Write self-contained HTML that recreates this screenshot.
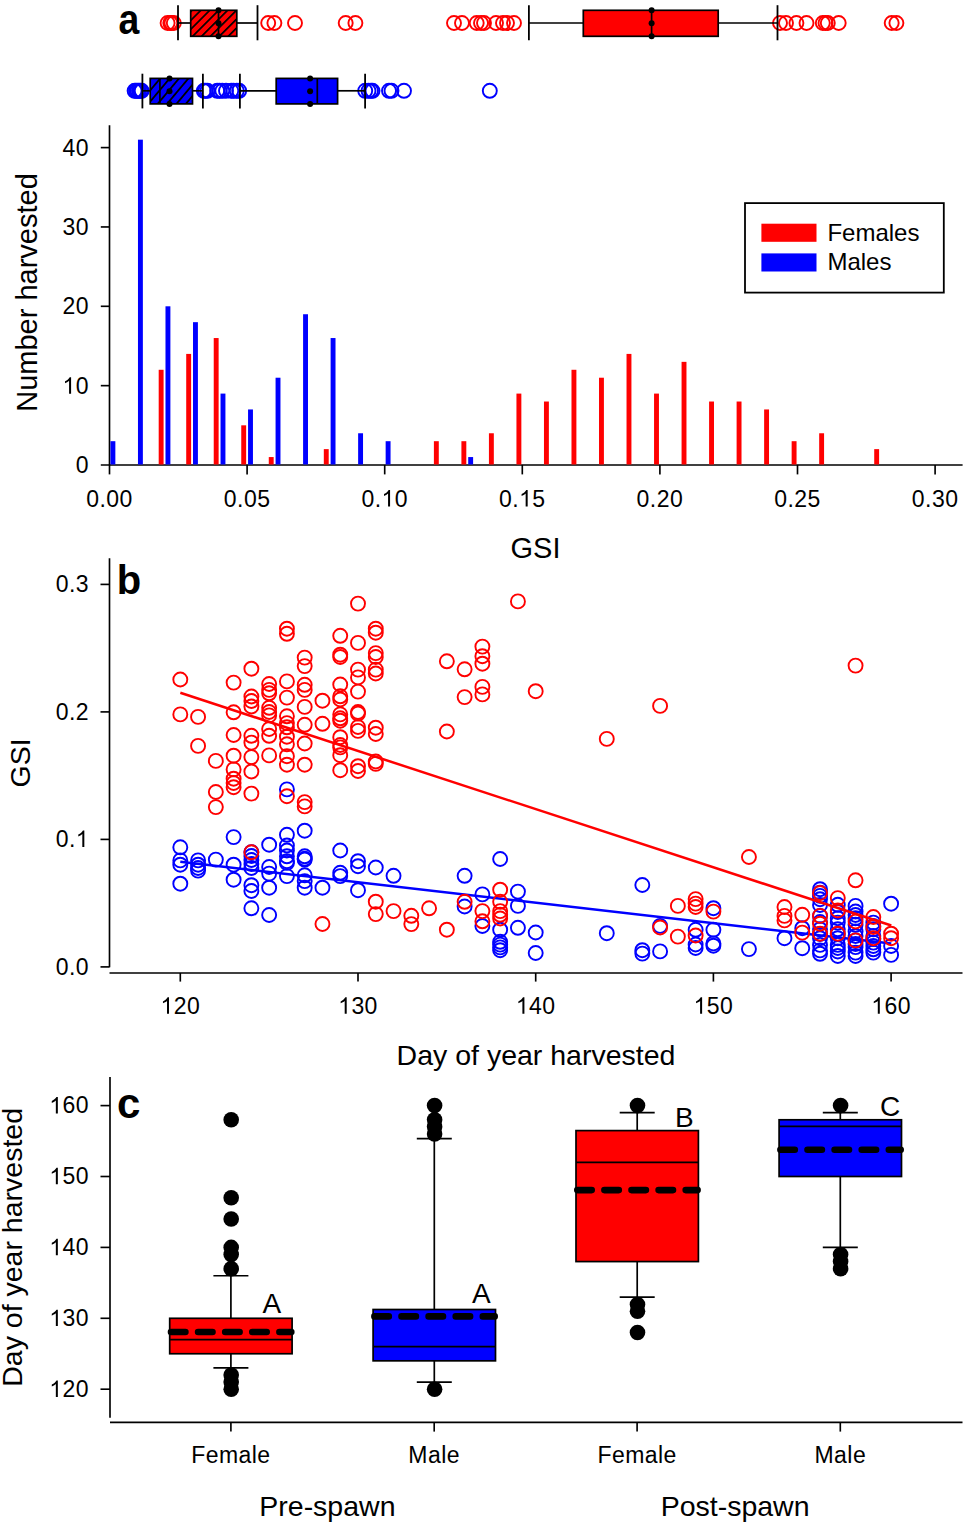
<!DOCTYPE html>
<html><head><meta charset="utf-8"><style>
html,body{margin:0;padding:0;background:#fff;overflow:hidden;width:968px;height:1528px;}
svg{display:block;}
text{font-family:"Liberation Sans", sans-serif;fill:#000;}
</style></head><body>
<svg width="968" height="1528" viewBox="0 0 968 1528">
<defs>
<pattern id="hatchr" patternUnits="userSpaceOnUse" width="6.3" height="6.3" patternTransform="translate(191,10) rotate(45)">
<rect width="6.3" height="6.3" fill="#ff0000"/><rect x="0" y="0" width="1.7" height="6.3" fill="#000"/></pattern>
<pattern id="hatchb" patternUnits="userSpaceOnUse" width="7.2" height="7.2" patternTransform="translate(150,78) rotate(40)">
<rect width="7.2" height="7.2" fill="#0000ff"/><rect x="0" y="0" width="1.8" height="7.2" fill="#000"/></pattern>
</defs>
<rect width="968" height="1528" fill="#fff"/>
<text transform="translate(118.5,33.8) scale(0.89,1)" font-size="42" font-weight="bold">a</text>
<circle cx="167.60" cy="23.00" r="7.0" stroke="#ff0000" stroke-width="1.9" fill="none"/>
<circle cx="170.30" cy="23.00" r="7.0" stroke="#ff0000" stroke-width="1.9" fill="none"/>
<circle cx="171.50" cy="23.00" r="7.0" stroke="#ff0000" stroke-width="1.9" fill="none"/>
<circle cx="173.80" cy="23.00" r="7.0" stroke="#ff0000" stroke-width="1.9" fill="none"/>
<circle cx="268.20" cy="23.00" r="7.0" stroke="#ff0000" stroke-width="1.9" fill="none"/>
<circle cx="274.40" cy="23.00" r="7.0" stroke="#ff0000" stroke-width="1.9" fill="none"/>
<circle cx="295.00" cy="23.00" r="7.0" stroke="#ff0000" stroke-width="1.9" fill="none"/>
<circle cx="345.70" cy="23.00" r="7.0" stroke="#ff0000" stroke-width="1.9" fill="none"/>
<circle cx="355.40" cy="23.00" r="7.0" stroke="#ff0000" stroke-width="1.9" fill="none"/>
<circle cx="454.00" cy="23.00" r="7.0" stroke="#ff0000" stroke-width="1.9" fill="none"/>
<circle cx="462.00" cy="23.00" r="7.0" stroke="#ff0000" stroke-width="1.9" fill="none"/>
<circle cx="476.70" cy="23.00" r="7.0" stroke="#ff0000" stroke-width="1.9" fill="none"/>
<circle cx="481.00" cy="23.00" r="7.0" stroke="#ff0000" stroke-width="1.9" fill="none"/>
<circle cx="484.00" cy="23.00" r="7.0" stroke="#ff0000" stroke-width="1.9" fill="none"/>
<circle cx="496.00" cy="23.00" r="7.0" stroke="#ff0000" stroke-width="1.9" fill="none"/>
<circle cx="503.00" cy="23.00" r="7.0" stroke="#ff0000" stroke-width="1.9" fill="none"/>
<circle cx="507.00" cy="23.00" r="7.0" stroke="#ff0000" stroke-width="1.9" fill="none"/>
<circle cx="514.00" cy="23.00" r="7.0" stroke="#ff0000" stroke-width="1.9" fill="none"/>
<circle cx="780.00" cy="23.00" r="7.0" stroke="#ff0000" stroke-width="1.9" fill="none"/>
<circle cx="786.00" cy="23.00" r="7.0" stroke="#ff0000" stroke-width="1.9" fill="none"/>
<circle cx="796.40" cy="23.00" r="7.0" stroke="#ff0000" stroke-width="1.9" fill="none"/>
<circle cx="806.50" cy="23.00" r="7.0" stroke="#ff0000" stroke-width="1.9" fill="none"/>
<circle cx="822.80" cy="23.00" r="7.0" stroke="#ff0000" stroke-width="1.9" fill="none"/>
<circle cx="825.50" cy="23.00" r="7.0" stroke="#ff0000" stroke-width="1.9" fill="none"/>
<circle cx="827.80" cy="23.00" r="7.0" stroke="#ff0000" stroke-width="1.9" fill="none"/>
<circle cx="838.70" cy="23.00" r="7.0" stroke="#ff0000" stroke-width="1.9" fill="none"/>
<circle cx="891.70" cy="23.00" r="7.0" stroke="#ff0000" stroke-width="1.9" fill="none"/>
<circle cx="896.40" cy="23.00" r="7.0" stroke="#ff0000" stroke-width="1.9" fill="none"/>
<line x1="178.00" y1="23.00" x2="190.70" y2="23.00" stroke="#000" stroke-width="1.7" />
<line x1="236.80" y1="23.00" x2="257.50" y2="23.00" stroke="#000" stroke-width="1.7" />
<line x1="178.00" y1="5.20" x2="178.00" y2="40.30" stroke="#000" stroke-width="1.8" />
<line x1="257.50" y1="5.20" x2="257.50" y2="40.30" stroke="#000" stroke-width="1.8" />
<rect x="190.70" y="10.30" width="46.10" height="26.00" fill="#ff0000" stroke="none" stroke-width="0" />
<rect x="190.70" y="10.30" width="46.10" height="26.00" fill="url(#hatchr)" stroke="#000" stroke-width="1.7" />
<line x1="218.50" y1="10.30" x2="218.50" y2="36.30" stroke="#000" stroke-width="1.7" />
<circle cx="218.50" cy="10.30" r="3" fill="#000"/>
<circle cx="218.50" cy="23.30" r="3" fill="#000"/>
<circle cx="218.50" cy="36.30" r="3" fill="#000"/>
<line x1="528.90" y1="23.00" x2="583.30" y2="23.00" stroke="#000" stroke-width="1.7" />
<line x1="718.20" y1="23.00" x2="777.50" y2="23.00" stroke="#000" stroke-width="1.7" />
<line x1="528.90" y1="5.20" x2="528.90" y2="40.30" stroke="#000" stroke-width="1.8" />
<line x1="777.50" y1="5.20" x2="777.50" y2="40.30" stroke="#000" stroke-width="1.8" />
<rect x="583.30" y="10.30" width="134.90" height="26.00" fill="#ff0000" stroke="#000" stroke-width="1.7" />
<line x1="651.60" y1="10.30" x2="651.60" y2="36.30" stroke="#000" stroke-width="1.7" />
<circle cx="651.60" cy="10.30" r="3" fill="#000"/>
<circle cx="651.60" cy="23.30" r="3" fill="#000"/>
<circle cx="651.60" cy="36.30" r="3" fill="#000"/>
<circle cx="134.60" cy="90.80" r="7.0" stroke="#0000ff" stroke-width="1.9" fill="none"/>
<circle cx="136.00" cy="90.80" r="7.0" stroke="#0000ff" stroke-width="1.9" fill="none"/>
<circle cx="137.50" cy="90.80" r="7.0" stroke="#0000ff" stroke-width="1.9" fill="none"/>
<circle cx="139.00" cy="90.80" r="7.0" stroke="#0000ff" stroke-width="1.9" fill="none"/>
<circle cx="140.50" cy="90.80" r="7.0" stroke="#0000ff" stroke-width="1.9" fill="none"/>
<circle cx="141.70" cy="90.80" r="7.0" stroke="#0000ff" stroke-width="1.9" fill="none"/>
<circle cx="203.80" cy="90.80" r="7.0" stroke="#0000ff" stroke-width="1.9" fill="none"/>
<circle cx="205.50" cy="90.80" r="7.0" stroke="#0000ff" stroke-width="1.9" fill="none"/>
<circle cx="207.50" cy="90.80" r="7.0" stroke="#0000ff" stroke-width="1.9" fill="none"/>
<circle cx="217.20" cy="90.80" r="7.0" stroke="#0000ff" stroke-width="1.9" fill="none"/>
<circle cx="219.50" cy="90.80" r="7.0" stroke="#0000ff" stroke-width="1.9" fill="none"/>
<circle cx="222.30" cy="90.80" r="7.0" stroke="#0000ff" stroke-width="1.9" fill="none"/>
<circle cx="226.00" cy="90.80" r="7.0" stroke="#0000ff" stroke-width="1.9" fill="none"/>
<circle cx="231.30" cy="90.80" r="7.0" stroke="#0000ff" stroke-width="1.9" fill="none"/>
<circle cx="233.50" cy="90.80" r="7.0" stroke="#0000ff" stroke-width="1.9" fill="none"/>
<circle cx="236.80" cy="90.80" r="7.0" stroke="#0000ff" stroke-width="1.9" fill="none"/>
<circle cx="239.20" cy="90.80" r="7.0" stroke="#0000ff" stroke-width="1.9" fill="none"/>
<circle cx="365.20" cy="90.80" r="7.0" stroke="#0000ff" stroke-width="1.9" fill="none"/>
<circle cx="368.50" cy="90.80" r="7.0" stroke="#0000ff" stroke-width="1.9" fill="none"/>
<circle cx="371.00" cy="90.80" r="7.0" stroke="#0000ff" stroke-width="1.9" fill="none"/>
<circle cx="372.50" cy="90.80" r="7.0" stroke="#0000ff" stroke-width="1.9" fill="none"/>
<circle cx="389.00" cy="90.80" r="7.0" stroke="#0000ff" stroke-width="1.9" fill="none"/>
<circle cx="391.50" cy="90.80" r="7.0" stroke="#0000ff" stroke-width="1.9" fill="none"/>
<circle cx="404.00" cy="90.80" r="7.0" stroke="#0000ff" stroke-width="1.9" fill="none"/>
<circle cx="489.80" cy="90.80" r="7.0" stroke="#0000ff" stroke-width="1.9" fill="none"/>
<line x1="142.40" y1="90.80" x2="150.20" y2="90.80" stroke="#000" stroke-width="1.7" />
<line x1="192.50" y1="90.80" x2="202.90" y2="90.80" stroke="#000" stroke-width="1.7" />
<line x1="142.40" y1="73.70" x2="142.40" y2="108.40" stroke="#000" stroke-width="1.8" />
<line x1="202.90" y1="73.70" x2="202.90" y2="108.40" stroke="#000" stroke-width="1.8" />
<rect x="150.20" y="78.40" width="42.30" height="25.50" fill="#0000ff" stroke="none" stroke-width="0" />
<rect x="150.20" y="78.40" width="42.30" height="25.50" fill="url(#hatchb)" stroke="#000" stroke-width="1.7" />
<line x1="159.90" y1="78.40" x2="159.90" y2="103.90" stroke="#000" stroke-width="1.7" />
<circle cx="169.50" cy="78.40" r="3" fill="#000"/>
<circle cx="169.50" cy="91.15" r="3" fill="#000"/>
<circle cx="169.50" cy="103.90" r="3" fill="#000"/>
<line x1="239.90" y1="90.80" x2="276.20" y2="90.80" stroke="#000" stroke-width="1.7" />
<line x1="337.60" y1="90.80" x2="365.10" y2="90.80" stroke="#000" stroke-width="1.7" />
<line x1="239.90" y1="73.70" x2="239.90" y2="108.40" stroke="#000" stroke-width="1.8" />
<line x1="365.10" y1="73.70" x2="365.10" y2="108.40" stroke="#000" stroke-width="1.8" />
<rect x="276.20" y="78.40" width="61.40" height="25.50" fill="#0000ff" stroke="#000" stroke-width="1.7" />
<line x1="317.30" y1="78.40" x2="317.30" y2="103.90" stroke="#000" stroke-width="1.7" />
<circle cx="310.10" cy="78.40" r="3" fill="#000"/>
<circle cx="310.10" cy="91.15" r="3" fill="#000"/>
<circle cx="310.10" cy="103.90" r="3" fill="#000"/>
<line x1="109.50" y1="125.20" x2="109.50" y2="465.00" stroke="#000" stroke-width="1.65" />
<line x1="100.80" y1="465.00" x2="962.60" y2="465.00" stroke="#000" stroke-width="1.65" />
<line x1="100.80" y1="385.65" x2="109.50" y2="385.65" stroke="#000" stroke-width="1.65" />
<line x1="100.80" y1="306.30" x2="109.50" y2="306.30" stroke="#000" stroke-width="1.65" />
<line x1="100.80" y1="226.95" x2="109.50" y2="226.95" stroke="#000" stroke-width="1.65" />
<line x1="100.80" y1="147.60" x2="109.50" y2="147.60" stroke="#000" stroke-width="1.65" />
<text x="75.76" y="473.10" font-size="23">0</text>
<path d="M71.09,393.75 L69.08,393.75 L69.08,380.87 C68.60,381.33 67.95,381.79 67.15,382.27 C66.34,382.73 65.63,383.08 65.03,383.31 L65.03,381.35 C66.14,380.82 67.10,380.20 67.93,379.47 C68.76,378.73 69.36,378.02 69.70,377.28 L71.09,377.28 Z" fill="#000"/>
<text x="75.76" y="393.75" font-size="23">0</text>
<text x="62.52" y="314.40" font-size="23">2</text>
<text x="75.76" y="314.40" font-size="23">0</text>
<text x="62.52" y="235.05" font-size="23">3</text>
<text x="75.76" y="235.05" font-size="23">0</text>
<text x="62.52" y="155.70" font-size="23">4</text>
<text x="75.76" y="155.70" font-size="23">0</text>
<line x1="109.50" y1="465.00" x2="109.50" y2="474.40" stroke="#000" stroke-width="1.65" />
<text x="86.22" y="506.50" font-size="23">0</text>
<text x="99.46" y="506.50" font-size="23">.</text>
<text x="106.30" y="506.50" font-size="23">0</text>
<text x="119.54" y="506.50" font-size="23">0</text>
<line x1="247.10" y1="465.00" x2="247.10" y2="474.40" stroke="#000" stroke-width="1.65" />
<text x="223.82" y="506.50" font-size="23">0</text>
<text x="237.06" y="506.50" font-size="23">.</text>
<text x="243.90" y="506.50" font-size="23">0</text>
<text x="257.14" y="506.50" font-size="23">5</text>
<line x1="384.70" y1="465.00" x2="384.70" y2="474.40" stroke="#000" stroke-width="1.65" />
<text x="361.42" y="506.50" font-size="23">0</text>
<text x="374.66" y="506.50" font-size="23">.</text>
<path d="M390.07,506.50 L388.06,506.50 L388.06,493.62 C387.57,494.08 386.93,494.54 386.13,495.02 C385.32,495.48 384.61,495.83 384.01,496.06 L384.01,494.10 C385.11,493.57 386.08,492.95 386.91,492.22 C387.74,491.48 388.33,490.77 388.68,490.03 L390.07,490.03 Z" fill="#000"/>
<text x="394.74" y="506.50" font-size="23">0</text>
<line x1="522.30" y1="465.00" x2="522.30" y2="474.40" stroke="#000" stroke-width="1.65" />
<text x="499.02" y="506.50" font-size="23">0</text>
<text x="512.26" y="506.50" font-size="23">.</text>
<path d="M527.67,506.50 L525.66,506.50 L525.66,493.62 C525.18,494.08 524.53,494.54 523.73,495.02 C522.92,495.48 522.21,495.83 521.61,496.06 L521.61,494.10 C522.71,493.57 523.68,492.95 524.51,492.22 C525.34,491.48 525.93,490.77 526.28,490.03 L527.67,490.03 Z" fill="#000"/>
<text x="532.34" y="506.50" font-size="23">5</text>
<line x1="659.90" y1="465.00" x2="659.90" y2="474.40" stroke="#000" stroke-width="1.65" />
<text x="636.62" y="506.50" font-size="23">0</text>
<text x="649.86" y="506.50" font-size="23">.</text>
<text x="656.70" y="506.50" font-size="23">2</text>
<text x="669.94" y="506.50" font-size="23">0</text>
<line x1="797.50" y1="465.00" x2="797.50" y2="474.40" stroke="#000" stroke-width="1.65" />
<text x="774.22" y="506.50" font-size="23">0</text>
<text x="787.46" y="506.50" font-size="23">.</text>
<text x="794.30" y="506.50" font-size="23">2</text>
<text x="807.54" y="506.50" font-size="23">5</text>
<line x1="935.10" y1="465.00" x2="935.10" y2="474.40" stroke="#000" stroke-width="1.65" />
<text x="911.82" y="506.50" font-size="23">0</text>
<text x="925.06" y="506.50" font-size="23">.</text>
<text x="931.90" y="506.50" font-size="23">3</text>
<text x="945.14" y="506.50" font-size="23">0</text>
<text x="535.50" y="558.00" font-size="29" text-anchor="middle" font-weight="normal" >GSI</text>
<text transform="translate(37.2,292.5) rotate(-90)" font-size="29" text-anchor="middle">Number harvested</text>
<rect x="158.69" y="369.78" width="4.90" height="94.72" fill="#ff0000" stroke="none" stroke-width="0" />
<rect x="186.21" y="353.91" width="4.90" height="110.59" fill="#ff0000" stroke="none" stroke-width="0" />
<rect x="213.73" y="338.04" width="4.90" height="126.46" fill="#ff0000" stroke="none" stroke-width="0" />
<rect x="241.25" y="425.32" width="4.90" height="39.18" fill="#ff0000" stroke="none" stroke-width="0" />
<rect x="268.77" y="457.06" width="4.90" height="7.44" fill="#ff0000" stroke="none" stroke-width="0" />
<rect x="323.81" y="449.13" width="4.90" height="15.37" fill="#ff0000" stroke="none" stroke-width="0" />
<rect x="433.89" y="441.19" width="4.90" height="23.31" fill="#ff0000" stroke="none" stroke-width="0" />
<rect x="461.41" y="441.19" width="4.90" height="23.31" fill="#ff0000" stroke="none" stroke-width="0" />
<rect x="488.93" y="433.26" width="4.90" height="31.24" fill="#ff0000" stroke="none" stroke-width="0" />
<rect x="516.45" y="393.59" width="4.90" height="70.91" fill="#ff0000" stroke="none" stroke-width="0" />
<rect x="543.97" y="401.52" width="4.90" height="62.98" fill="#ff0000" stroke="none" stroke-width="0" />
<rect x="571.49" y="369.78" width="4.90" height="94.72" fill="#ff0000" stroke="none" stroke-width="0" />
<rect x="599.01" y="377.72" width="4.90" height="86.78" fill="#ff0000" stroke="none" stroke-width="0" />
<rect x="626.53" y="353.91" width="4.90" height="110.59" fill="#ff0000" stroke="none" stroke-width="0" />
<rect x="654.05" y="393.59" width="4.90" height="70.91" fill="#ff0000" stroke="none" stroke-width="0" />
<rect x="681.57" y="361.85" width="4.90" height="102.65" fill="#ff0000" stroke="none" stroke-width="0" />
<rect x="709.09" y="401.52" width="4.90" height="62.98" fill="#ff0000" stroke="none" stroke-width="0" />
<rect x="736.61" y="401.52" width="4.90" height="62.98" fill="#ff0000" stroke="none" stroke-width="0" />
<rect x="764.13" y="409.45" width="4.90" height="55.05" fill="#ff0000" stroke="none" stroke-width="0" />
<rect x="791.65" y="441.19" width="4.90" height="23.31" fill="#ff0000" stroke="none" stroke-width="0" />
<rect x="819.17" y="433.26" width="4.90" height="31.24" fill="#ff0000" stroke="none" stroke-width="0" />
<rect x="874.21" y="449.13" width="4.90" height="15.37" fill="#ff0000" stroke="none" stroke-width="0" />
<rect x="110.45" y="441.19" width="4.90" height="23.31" fill="#0000ff" stroke="none" stroke-width="0" />
<rect x="137.97" y="139.67" width="4.90" height="324.83" fill="#0000ff" stroke="none" stroke-width="0" />
<rect x="165.49" y="306.30" width="4.90" height="158.20" fill="#0000ff" stroke="none" stroke-width="0" />
<rect x="193.01" y="322.17" width="4.90" height="142.33" fill="#0000ff" stroke="none" stroke-width="0" />
<rect x="220.53" y="393.59" width="4.90" height="70.91" fill="#0000ff" stroke="none" stroke-width="0" />
<rect x="248.05" y="409.45" width="4.90" height="55.05" fill="#0000ff" stroke="none" stroke-width="0" />
<rect x="275.57" y="377.72" width="4.90" height="86.78" fill="#0000ff" stroke="none" stroke-width="0" />
<rect x="303.09" y="314.24" width="4.90" height="150.26" fill="#0000ff" stroke="none" stroke-width="0" />
<rect x="330.61" y="338.04" width="4.90" height="126.46" fill="#0000ff" stroke="none" stroke-width="0" />
<rect x="358.13" y="433.26" width="4.90" height="31.24" fill="#0000ff" stroke="none" stroke-width="0" />
<rect x="385.65" y="441.19" width="4.90" height="23.31" fill="#0000ff" stroke="none" stroke-width="0" />
<rect x="468.21" y="457.06" width="4.90" height="7.44" fill="#0000ff" stroke="none" stroke-width="0" />
<rect x="745.00" y="203.10" width="198.80" height="89.50" fill="#fff" stroke="#000" stroke-width="1.8" />
<rect x="761.40" y="223.70" width="55.10" height="18.10" fill="#ff0000" stroke="none" stroke-width="0" />
<rect x="761.40" y="253.40" width="55.10" height="18.10" fill="#0000ff" stroke="none" stroke-width="0" />
<text x="827.40" y="240.60" font-size="24" text-anchor="start" font-weight="normal" >Females</text>
<text x="827.40" y="269.60" font-size="24" text-anchor="start" font-weight="normal" >Males</text>
<line x1="109.50" y1="558.30" x2="109.50" y2="967.30" stroke="#000" stroke-width="1.65" />
<line x1="109.50" y1="973.00" x2="962.50" y2="973.00" stroke="#000" stroke-width="1.65" />
<line x1="100.50" y1="966.90" x2="109.50" y2="966.90" stroke="#000" stroke-width="1.65" />
<text x="55.68" y="974.50" font-size="23">0</text>
<text x="68.92" y="974.50" font-size="23">.</text>
<text x="75.76" y="974.50" font-size="23">0</text>
<line x1="100.50" y1="839.40" x2="109.50" y2="839.40" stroke="#000" stroke-width="1.65" />
<text x="55.68" y="847.00" font-size="23">0</text>
<text x="68.92" y="847.00" font-size="23">.</text>
<path d="M84.33,847.00 L82.32,847.00 L82.32,834.12 C81.83,834.58 81.19,835.04 80.39,835.52 C79.58,835.98 78.87,836.33 78.27,836.56 L78.27,834.60 C79.37,834.07 80.34,833.45 81.17,832.72 C82.00,831.98 82.59,831.27 82.94,830.53 L84.33,830.53 Z" fill="#000"/>
<line x1="100.50" y1="711.90" x2="109.50" y2="711.90" stroke="#000" stroke-width="1.65" />
<text x="55.68" y="719.50" font-size="23">0</text>
<text x="68.92" y="719.50" font-size="23">.</text>
<text x="75.76" y="719.50" font-size="23">2</text>
<line x1="100.50" y1="584.40" x2="109.50" y2="584.40" stroke="#000" stroke-width="1.65" />
<text x="55.68" y="592.00" font-size="23">0</text>
<text x="68.92" y="592.00" font-size="23">.</text>
<text x="75.76" y="592.00" font-size="23">3</text>
<line x1="180.30" y1="973.00" x2="180.30" y2="981.60" stroke="#000" stroke-width="1.65" />
<path d="M169.01,1013.80 L167.00,1013.80 L167.00,1000.92 C166.52,1001.38 165.87,1001.84 165.07,1002.32 C164.26,1002.78 163.55,1003.13 162.95,1003.36 L162.95,1001.40 C164.05,1000.87 165.02,1000.25 165.85,999.52 C166.68,998.78 167.27,998.07 167.62,997.33 L169.01,997.33 Z" fill="#000"/>
<text x="173.68" y="1013.80" font-size="23">2</text>
<text x="186.92" y="1013.80" font-size="23">0</text>
<line x1="358.00" y1="973.00" x2="358.00" y2="981.60" stroke="#000" stroke-width="1.65" />
<path d="M346.71,1013.80 L344.70,1013.80 L344.70,1000.92 C344.21,1001.38 343.57,1001.84 342.77,1002.32 C341.96,1002.78 341.25,1003.13 340.65,1003.36 L340.65,1001.40 C341.75,1000.87 342.72,1000.25 343.55,999.52 C344.38,998.78 344.97,998.07 345.32,997.33 L346.71,997.33 Z" fill="#000"/>
<text x="351.38" y="1013.80" font-size="23">3</text>
<text x="364.62" y="1013.80" font-size="23">0</text>
<line x1="535.70" y1="973.00" x2="535.70" y2="981.60" stroke="#000" stroke-width="1.65" />
<path d="M524.41,1013.80 L522.40,1013.80 L522.40,1000.92 C521.92,1001.38 521.27,1001.84 520.47,1002.32 C519.66,1002.78 518.95,1003.13 518.35,1003.36 L518.35,1001.40 C519.45,1000.87 520.42,1000.25 521.25,999.52 C522.08,998.78 522.67,998.07 523.02,997.33 L524.41,997.33 Z" fill="#000"/>
<text x="529.08" y="1013.80" font-size="23">4</text>
<text x="542.32" y="1013.80" font-size="23">0</text>
<line x1="713.40" y1="973.00" x2="713.40" y2="981.60" stroke="#000" stroke-width="1.65" />
<path d="M702.11,1013.80 L700.10,1013.80 L700.10,1000.92 C699.62,1001.38 698.97,1001.84 698.17,1002.32 C697.36,1002.78 696.65,1003.13 696.05,1003.36 L696.05,1001.40 C697.15,1000.87 698.12,1000.25 698.95,999.52 C699.78,998.78 700.37,998.07 700.72,997.33 L702.11,997.33 Z" fill="#000"/>
<text x="706.78" y="1013.80" font-size="23">5</text>
<text x="720.02" y="1013.80" font-size="23">0</text>
<line x1="891.10" y1="973.00" x2="891.10" y2="981.60" stroke="#000" stroke-width="1.65" />
<path d="M879.81,1013.80 L877.80,1013.80 L877.80,1000.92 C877.31,1001.38 876.67,1001.84 875.87,1002.32 C875.06,1002.78 874.35,1003.13 873.75,1003.36 L873.75,1001.40 C874.85,1000.87 875.82,1000.25 876.65,999.52 C877.48,998.78 878.07,998.07 878.42,997.33 L879.81,997.33 Z" fill="#000"/>
<text x="884.48" y="1013.80" font-size="23">6</text>
<text x="897.72" y="1013.80" font-size="23">0</text>
<text x="536.00" y="1065.40" font-size="28.5" text-anchor="middle" font-weight="normal" >Day of year harvested</text>
<text transform="translate(30.4,762.9) rotate(-90)" font-size="28.5" text-anchor="middle">GSI</text>
<text x="116.80" y="593.50" font-size="40" text-anchor="start" font-weight="bold" >b</text>
<circle cx="180.30" cy="847.30" r="7.0" stroke="#0000ff" stroke-width="1.9" fill="none"/>
<circle cx="180.30" cy="860.40" r="7.0" stroke="#0000ff" stroke-width="1.9" fill="none"/>
<circle cx="180.30" cy="864.70" r="7.0" stroke="#0000ff" stroke-width="1.9" fill="none"/>
<circle cx="180.30" cy="883.70" r="7.0" stroke="#0000ff" stroke-width="1.9" fill="none"/>
<circle cx="198.07" cy="860.40" r="7.0" stroke="#0000ff" stroke-width="1.9" fill="none"/>
<circle cx="198.07" cy="864.70" r="7.0" stroke="#0000ff" stroke-width="1.9" fill="none"/>
<circle cx="198.07" cy="868.00" r="7.0" stroke="#0000ff" stroke-width="1.9" fill="none"/>
<circle cx="198.07" cy="870.60" r="7.0" stroke="#0000ff" stroke-width="1.9" fill="none"/>
<circle cx="215.84" cy="859.60" r="7.0" stroke="#0000ff" stroke-width="1.9" fill="none"/>
<circle cx="233.61" cy="837.10" r="7.0" stroke="#0000ff" stroke-width="1.9" fill="none"/>
<circle cx="233.61" cy="864.70" r="7.0" stroke="#0000ff" stroke-width="1.9" fill="none"/>
<circle cx="233.61" cy="879.70" r="7.0" stroke="#0000ff" stroke-width="1.9" fill="none"/>
<circle cx="251.38" cy="852.10" r="7.0" stroke="#0000ff" stroke-width="1.9" fill="none"/>
<circle cx="251.38" cy="856.00" r="7.0" stroke="#0000ff" stroke-width="1.9" fill="none"/>
<circle cx="251.38" cy="860.00" r="7.0" stroke="#0000ff" stroke-width="1.9" fill="none"/>
<circle cx="251.38" cy="864.00" r="7.0" stroke="#0000ff" stroke-width="1.9" fill="none"/>
<circle cx="251.38" cy="868.00" r="7.0" stroke="#0000ff" stroke-width="1.9" fill="none"/>
<circle cx="251.38" cy="885.20" r="7.0" stroke="#0000ff" stroke-width="1.9" fill="none"/>
<circle cx="251.38" cy="891.00" r="7.0" stroke="#0000ff" stroke-width="1.9" fill="none"/>
<circle cx="251.38" cy="908.30" r="7.0" stroke="#0000ff" stroke-width="1.9" fill="none"/>
<circle cx="269.15" cy="844.70" r="7.0" stroke="#0000ff" stroke-width="1.9" fill="none"/>
<circle cx="269.15" cy="867.00" r="7.0" stroke="#0000ff" stroke-width="1.9" fill="none"/>
<circle cx="269.15" cy="873.60" r="7.0" stroke="#0000ff" stroke-width="1.9" fill="none"/>
<circle cx="269.15" cy="887.70" r="7.0" stroke="#0000ff" stroke-width="1.9" fill="none"/>
<circle cx="269.15" cy="915.00" r="7.0" stroke="#0000ff" stroke-width="1.9" fill="none"/>
<circle cx="286.92" cy="789.40" r="7.0" stroke="#0000ff" stroke-width="1.9" fill="none"/>
<circle cx="286.92" cy="834.80" r="7.0" stroke="#0000ff" stroke-width="1.9" fill="none"/>
<circle cx="286.92" cy="845.50" r="7.0" stroke="#0000ff" stroke-width="1.9" fill="none"/>
<circle cx="286.92" cy="850.50" r="7.0" stroke="#0000ff" stroke-width="1.9" fill="none"/>
<circle cx="286.92" cy="856.30" r="7.0" stroke="#0000ff" stroke-width="1.9" fill="none"/>
<circle cx="286.92" cy="861.20" r="7.0" stroke="#0000ff" stroke-width="1.9" fill="none"/>
<circle cx="286.92" cy="862.90" r="7.0" stroke="#0000ff" stroke-width="1.9" fill="none"/>
<circle cx="286.92" cy="876.10" r="7.0" stroke="#0000ff" stroke-width="1.9" fill="none"/>
<circle cx="304.69" cy="830.70" r="7.0" stroke="#0000ff" stroke-width="1.9" fill="none"/>
<circle cx="304.69" cy="856.30" r="7.0" stroke="#0000ff" stroke-width="1.9" fill="none"/>
<circle cx="304.69" cy="858.80" r="7.0" stroke="#0000ff" stroke-width="1.9" fill="none"/>
<circle cx="304.69" cy="859.60" r="7.0" stroke="#0000ff" stroke-width="1.9" fill="none"/>
<circle cx="304.69" cy="875.30" r="7.0" stroke="#0000ff" stroke-width="1.9" fill="none"/>
<circle cx="304.69" cy="881.10" r="7.0" stroke="#0000ff" stroke-width="1.9" fill="none"/>
<circle cx="304.69" cy="887.70" r="7.0" stroke="#0000ff" stroke-width="1.9" fill="none"/>
<circle cx="322.46" cy="887.70" r="7.0" stroke="#0000ff" stroke-width="1.9" fill="none"/>
<circle cx="340.23" cy="850.50" r="7.0" stroke="#0000ff" stroke-width="1.9" fill="none"/>
<circle cx="340.23" cy="872.80" r="7.0" stroke="#0000ff" stroke-width="1.9" fill="none"/>
<circle cx="340.23" cy="876.10" r="7.0" stroke="#0000ff" stroke-width="1.9" fill="none"/>
<circle cx="358.00" cy="861.20" r="7.0" stroke="#0000ff" stroke-width="1.9" fill="none"/>
<circle cx="358.00" cy="866.20" r="7.0" stroke="#0000ff" stroke-width="1.9" fill="none"/>
<circle cx="358.00" cy="890.20" r="7.0" stroke="#0000ff" stroke-width="1.9" fill="none"/>
<circle cx="375.77" cy="867.50" r="7.0" stroke="#0000ff" stroke-width="1.9" fill="none"/>
<circle cx="393.54" cy="875.80" r="7.0" stroke="#0000ff" stroke-width="1.9" fill="none"/>
<circle cx="464.62" cy="875.80" r="7.0" stroke="#0000ff" stroke-width="1.9" fill="none"/>
<circle cx="464.62" cy="906.50" r="7.0" stroke="#0000ff" stroke-width="1.9" fill="none"/>
<circle cx="482.39" cy="894.40" r="7.0" stroke="#0000ff" stroke-width="1.9" fill="none"/>
<circle cx="482.39" cy="926.00" r="7.0" stroke="#0000ff" stroke-width="1.9" fill="none"/>
<circle cx="500.16" cy="859.00" r="7.0" stroke="#0000ff" stroke-width="1.9" fill="none"/>
<circle cx="500.16" cy="929.70" r="7.0" stroke="#0000ff" stroke-width="1.9" fill="none"/>
<circle cx="500.16" cy="941.80" r="7.0" stroke="#0000ff" stroke-width="1.9" fill="none"/>
<circle cx="500.16" cy="944.60" r="7.0" stroke="#0000ff" stroke-width="1.9" fill="none"/>
<circle cx="500.16" cy="947.40" r="7.0" stroke="#0000ff" stroke-width="1.9" fill="none"/>
<circle cx="500.16" cy="950.20" r="7.0" stroke="#0000ff" stroke-width="1.9" fill="none"/>
<circle cx="517.93" cy="891.60" r="7.0" stroke="#0000ff" stroke-width="1.9" fill="none"/>
<circle cx="517.93" cy="905.90" r="7.0" stroke="#0000ff" stroke-width="1.9" fill="none"/>
<circle cx="517.93" cy="927.80" r="7.0" stroke="#0000ff" stroke-width="1.9" fill="none"/>
<circle cx="535.70" cy="932.50" r="7.0" stroke="#0000ff" stroke-width="1.9" fill="none"/>
<circle cx="535.70" cy="953.00" r="7.0" stroke="#0000ff" stroke-width="1.9" fill="none"/>
<circle cx="606.78" cy="933.20" r="7.0" stroke="#0000ff" stroke-width="1.9" fill="none"/>
<circle cx="642.32" cy="885.00" r="7.0" stroke="#0000ff" stroke-width="1.9" fill="none"/>
<circle cx="642.32" cy="950.20" r="7.0" stroke="#0000ff" stroke-width="1.9" fill="none"/>
<circle cx="642.32" cy="953.60" r="7.0" stroke="#0000ff" stroke-width="1.9" fill="none"/>
<circle cx="660.09" cy="925.90" r="7.0" stroke="#0000ff" stroke-width="1.9" fill="none"/>
<circle cx="660.09" cy="951.40" r="7.0" stroke="#0000ff" stroke-width="1.9" fill="none"/>
<circle cx="695.63" cy="929.80" r="7.0" stroke="#0000ff" stroke-width="1.9" fill="none"/>
<circle cx="695.63" cy="944.50" r="7.0" stroke="#0000ff" stroke-width="1.9" fill="none"/>
<circle cx="695.63" cy="948.00" r="7.0" stroke="#0000ff" stroke-width="1.9" fill="none"/>
<circle cx="713.40" cy="908.20" r="7.0" stroke="#0000ff" stroke-width="1.9" fill="none"/>
<circle cx="713.40" cy="929.80" r="7.0" stroke="#0000ff" stroke-width="1.9" fill="none"/>
<circle cx="713.40" cy="943.40" r="7.0" stroke="#0000ff" stroke-width="1.9" fill="none"/>
<circle cx="713.40" cy="945.70" r="7.0" stroke="#0000ff" stroke-width="1.9" fill="none"/>
<circle cx="748.94" cy="949.10" r="7.0" stroke="#0000ff" stroke-width="1.9" fill="none"/>
<circle cx="784.48" cy="938.20" r="7.0" stroke="#0000ff" stroke-width="1.9" fill="none"/>
<circle cx="802.25" cy="928.20" r="7.0" stroke="#0000ff" stroke-width="1.9" fill="none"/>
<circle cx="802.25" cy="948.20" r="7.0" stroke="#0000ff" stroke-width="1.9" fill="none"/>
<circle cx="820.02" cy="889.20" r="7.0" stroke="#0000ff" stroke-width="1.9" fill="none"/>
<circle cx="820.02" cy="892.60" r="7.0" stroke="#0000ff" stroke-width="1.9" fill="none"/>
<circle cx="820.02" cy="895.90" r="7.0" stroke="#0000ff" stroke-width="1.9" fill="none"/>
<circle cx="820.02" cy="899.20" r="7.0" stroke="#0000ff" stroke-width="1.9" fill="none"/>
<circle cx="820.02" cy="905.00" r="7.0" stroke="#0000ff" stroke-width="1.9" fill="none"/>
<circle cx="820.02" cy="915.90" r="7.0" stroke="#0000ff" stroke-width="1.9" fill="none"/>
<circle cx="820.02" cy="922.00" r="7.0" stroke="#0000ff" stroke-width="1.9" fill="none"/>
<circle cx="820.02" cy="929.30" r="7.0" stroke="#0000ff" stroke-width="1.9" fill="none"/>
<circle cx="820.02" cy="934.00" r="7.0" stroke="#0000ff" stroke-width="1.9" fill="none"/>
<circle cx="820.02" cy="938.20" r="7.0" stroke="#0000ff" stroke-width="1.9" fill="none"/>
<circle cx="820.02" cy="944.90" r="7.0" stroke="#0000ff" stroke-width="1.9" fill="none"/>
<circle cx="820.02" cy="950.40" r="7.0" stroke="#0000ff" stroke-width="1.9" fill="none"/>
<circle cx="820.02" cy="953.80" r="7.0" stroke="#0000ff" stroke-width="1.9" fill="none"/>
<circle cx="837.79" cy="904.80" r="7.0" stroke="#0000ff" stroke-width="1.9" fill="none"/>
<circle cx="837.79" cy="912.00" r="7.0" stroke="#0000ff" stroke-width="1.9" fill="none"/>
<circle cx="837.79" cy="918.20" r="7.0" stroke="#0000ff" stroke-width="1.9" fill="none"/>
<circle cx="837.79" cy="922.60" r="7.0" stroke="#0000ff" stroke-width="1.9" fill="none"/>
<circle cx="837.79" cy="929.30" r="7.0" stroke="#0000ff" stroke-width="1.9" fill="none"/>
<circle cx="837.79" cy="934.00" r="7.0" stroke="#0000ff" stroke-width="1.9" fill="none"/>
<circle cx="837.79" cy="938.20" r="7.0" stroke="#0000ff" stroke-width="1.9" fill="none"/>
<circle cx="837.79" cy="944.90" r="7.0" stroke="#0000ff" stroke-width="1.9" fill="none"/>
<circle cx="837.79" cy="948.00" r="7.0" stroke="#0000ff" stroke-width="1.9" fill="none"/>
<circle cx="837.79" cy="951.50" r="7.0" stroke="#0000ff" stroke-width="1.9" fill="none"/>
<circle cx="837.79" cy="956.00" r="7.0" stroke="#0000ff" stroke-width="1.9" fill="none"/>
<circle cx="855.56" cy="905.90" r="7.0" stroke="#0000ff" stroke-width="1.9" fill="none"/>
<circle cx="855.56" cy="911.50" r="7.0" stroke="#0000ff" stroke-width="1.9" fill="none"/>
<circle cx="855.56" cy="915.00" r="7.0" stroke="#0000ff" stroke-width="1.9" fill="none"/>
<circle cx="855.56" cy="918.20" r="7.0" stroke="#0000ff" stroke-width="1.9" fill="none"/>
<circle cx="855.56" cy="924.80" r="7.0" stroke="#0000ff" stroke-width="1.9" fill="none"/>
<circle cx="855.56" cy="931.50" r="7.0" stroke="#0000ff" stroke-width="1.9" fill="none"/>
<circle cx="855.56" cy="936.00" r="7.0" stroke="#0000ff" stroke-width="1.9" fill="none"/>
<circle cx="855.56" cy="940.40" r="7.0" stroke="#0000ff" stroke-width="1.9" fill="none"/>
<circle cx="855.56" cy="944.00" r="7.0" stroke="#0000ff" stroke-width="1.9" fill="none"/>
<circle cx="855.56" cy="947.10" r="7.0" stroke="#0000ff" stroke-width="1.9" fill="none"/>
<circle cx="855.56" cy="952.60" r="7.0" stroke="#0000ff" stroke-width="1.9" fill="none"/>
<circle cx="855.56" cy="956.00" r="7.0" stroke="#0000ff" stroke-width="1.9" fill="none"/>
<circle cx="873.33" cy="922.60" r="7.0" stroke="#0000ff" stroke-width="1.9" fill="none"/>
<circle cx="873.33" cy="926.00" r="7.0" stroke="#0000ff" stroke-width="1.9" fill="none"/>
<circle cx="873.33" cy="929.30" r="7.0" stroke="#0000ff" stroke-width="1.9" fill="none"/>
<circle cx="873.33" cy="936.00" r="7.0" stroke="#0000ff" stroke-width="1.9" fill="none"/>
<circle cx="873.33" cy="939.00" r="7.0" stroke="#0000ff" stroke-width="1.9" fill="none"/>
<circle cx="873.33" cy="942.60" r="7.0" stroke="#0000ff" stroke-width="1.9" fill="none"/>
<circle cx="873.33" cy="946.00" r="7.0" stroke="#0000ff" stroke-width="1.9" fill="none"/>
<circle cx="873.33" cy="949.30" r="7.0" stroke="#0000ff" stroke-width="1.9" fill="none"/>
<circle cx="873.33" cy="952.60" r="7.0" stroke="#0000ff" stroke-width="1.9" fill="none"/>
<circle cx="891.10" cy="903.70" r="7.0" stroke="#0000ff" stroke-width="1.9" fill="none"/>
<circle cx="891.10" cy="946.00" r="7.0" stroke="#0000ff" stroke-width="1.9" fill="none"/>
<circle cx="891.10" cy="954.90" r="7.0" stroke="#0000ff" stroke-width="1.9" fill="none"/>
<line x1="180.30" y1="861.80" x2="891.30" y2="943.60" stroke="#0000ff" stroke-width="2.5" />
<circle cx="180.30" cy="679.50" r="7.0" stroke="#ff0000" stroke-width="1.9" fill="none"/>
<circle cx="180.30" cy="714.40" r="7.0" stroke="#ff0000" stroke-width="1.9" fill="none"/>
<circle cx="198.07" cy="716.90" r="7.0" stroke="#ff0000" stroke-width="1.9" fill="none"/>
<circle cx="198.07" cy="745.90" r="7.0" stroke="#ff0000" stroke-width="1.9" fill="none"/>
<circle cx="215.84" cy="760.90" r="7.0" stroke="#ff0000" stroke-width="1.9" fill="none"/>
<circle cx="215.84" cy="792.00" r="7.0" stroke="#ff0000" stroke-width="1.9" fill="none"/>
<circle cx="215.84" cy="807.10" r="7.0" stroke="#ff0000" stroke-width="1.9" fill="none"/>
<circle cx="233.61" cy="682.60" r="7.0" stroke="#ff0000" stroke-width="1.9" fill="none"/>
<circle cx="233.61" cy="712.30" r="7.0" stroke="#ff0000" stroke-width="1.9" fill="none"/>
<circle cx="233.61" cy="735.00" r="7.0" stroke="#ff0000" stroke-width="1.9" fill="none"/>
<circle cx="233.61" cy="755.70" r="7.0" stroke="#ff0000" stroke-width="1.9" fill="none"/>
<circle cx="233.61" cy="769.40" r="7.0" stroke="#ff0000" stroke-width="1.9" fill="none"/>
<circle cx="233.61" cy="778.70" r="7.0" stroke="#ff0000" stroke-width="1.9" fill="none"/>
<circle cx="233.61" cy="783.00" r="7.0" stroke="#ff0000" stroke-width="1.9" fill="none"/>
<circle cx="233.61" cy="787.20" r="7.0" stroke="#ff0000" stroke-width="1.9" fill="none"/>
<circle cx="251.38" cy="668.70" r="7.0" stroke="#ff0000" stroke-width="1.9" fill="none"/>
<circle cx="251.38" cy="696.50" r="7.0" stroke="#ff0000" stroke-width="1.9" fill="none"/>
<circle cx="251.38" cy="701.00" r="7.0" stroke="#ff0000" stroke-width="1.9" fill="none"/>
<circle cx="251.38" cy="706.50" r="7.0" stroke="#ff0000" stroke-width="1.9" fill="none"/>
<circle cx="251.38" cy="735.80" r="7.0" stroke="#ff0000" stroke-width="1.9" fill="none"/>
<circle cx="251.38" cy="742.60" r="7.0" stroke="#ff0000" stroke-width="1.9" fill="none"/>
<circle cx="251.38" cy="757.10" r="7.0" stroke="#ff0000" stroke-width="1.9" fill="none"/>
<circle cx="251.38" cy="771.50" r="7.0" stroke="#ff0000" stroke-width="1.9" fill="none"/>
<circle cx="251.38" cy="793.60" r="7.0" stroke="#ff0000" stroke-width="1.9" fill="none"/>
<circle cx="251.38" cy="852.30" r="7.0" stroke="#ff0000" stroke-width="1.9" fill="none"/>
<circle cx="269.15" cy="684.00" r="7.0" stroke="#ff0000" stroke-width="1.9" fill="none"/>
<circle cx="269.15" cy="689.90" r="7.0" stroke="#ff0000" stroke-width="1.9" fill="none"/>
<circle cx="269.15" cy="693.30" r="7.0" stroke="#ff0000" stroke-width="1.9" fill="none"/>
<circle cx="269.15" cy="707.80" r="7.0" stroke="#ff0000" stroke-width="1.9" fill="none"/>
<circle cx="269.15" cy="712.00" r="7.0" stroke="#ff0000" stroke-width="1.9" fill="none"/>
<circle cx="269.15" cy="715.40" r="7.0" stroke="#ff0000" stroke-width="1.9" fill="none"/>
<circle cx="269.15" cy="729.00" r="7.0" stroke="#ff0000" stroke-width="1.9" fill="none"/>
<circle cx="269.15" cy="735.80" r="7.0" stroke="#ff0000" stroke-width="1.9" fill="none"/>
<circle cx="269.15" cy="755.40" r="7.0" stroke="#ff0000" stroke-width="1.9" fill="none"/>
<circle cx="286.92" cy="628.70" r="7.0" stroke="#ff0000" stroke-width="1.9" fill="none"/>
<circle cx="286.92" cy="633.80" r="7.0" stroke="#ff0000" stroke-width="1.9" fill="none"/>
<circle cx="286.92" cy="681.40" r="7.0" stroke="#ff0000" stroke-width="1.9" fill="none"/>
<circle cx="286.92" cy="697.60" r="7.0" stroke="#ff0000" stroke-width="1.9" fill="none"/>
<circle cx="286.92" cy="716.30" r="7.0" stroke="#ff0000" stroke-width="1.9" fill="none"/>
<circle cx="286.92" cy="723.10" r="7.0" stroke="#ff0000" stroke-width="1.9" fill="none"/>
<circle cx="286.92" cy="727.30" r="7.0" stroke="#ff0000" stroke-width="1.9" fill="none"/>
<circle cx="286.92" cy="736.70" r="7.0" stroke="#ff0000" stroke-width="1.9" fill="none"/>
<circle cx="286.92" cy="744.30" r="7.0" stroke="#ff0000" stroke-width="1.9" fill="none"/>
<circle cx="286.92" cy="756.20" r="7.0" stroke="#ff0000" stroke-width="1.9" fill="none"/>
<circle cx="286.92" cy="764.70" r="7.0" stroke="#ff0000" stroke-width="1.9" fill="none"/>
<circle cx="286.92" cy="796.20" r="7.0" stroke="#ff0000" stroke-width="1.9" fill="none"/>
<circle cx="304.69" cy="657.60" r="7.0" stroke="#ff0000" stroke-width="1.9" fill="none"/>
<circle cx="304.69" cy="666.10" r="7.0" stroke="#ff0000" stroke-width="1.9" fill="none"/>
<circle cx="304.69" cy="684.80" r="7.0" stroke="#ff0000" stroke-width="1.9" fill="none"/>
<circle cx="304.69" cy="689.90" r="7.0" stroke="#ff0000" stroke-width="1.9" fill="none"/>
<circle cx="304.69" cy="706.90" r="7.0" stroke="#ff0000" stroke-width="1.9" fill="none"/>
<circle cx="304.69" cy="724.80" r="7.0" stroke="#ff0000" stroke-width="1.9" fill="none"/>
<circle cx="304.69" cy="743.50" r="7.0" stroke="#ff0000" stroke-width="1.9" fill="none"/>
<circle cx="304.69" cy="764.70" r="7.0" stroke="#ff0000" stroke-width="1.9" fill="none"/>
<circle cx="304.69" cy="802.10" r="7.0" stroke="#ff0000" stroke-width="1.9" fill="none"/>
<circle cx="304.69" cy="806.40" r="7.0" stroke="#ff0000" stroke-width="1.9" fill="none"/>
<circle cx="322.46" cy="700.70" r="7.0" stroke="#ff0000" stroke-width="1.9" fill="none"/>
<circle cx="322.46" cy="723.80" r="7.0" stroke="#ff0000" stroke-width="1.9" fill="none"/>
<circle cx="322.46" cy="924.00" r="7.0" stroke="#ff0000" stroke-width="1.9" fill="none"/>
<circle cx="340.23" cy="635.80" r="7.0" stroke="#ff0000" stroke-width="1.9" fill="none"/>
<circle cx="340.23" cy="654.70" r="7.0" stroke="#ff0000" stroke-width="1.9" fill="none"/>
<circle cx="340.23" cy="657.00" r="7.0" stroke="#ff0000" stroke-width="1.9" fill="none"/>
<circle cx="340.23" cy="684.50" r="7.0" stroke="#ff0000" stroke-width="1.9" fill="none"/>
<circle cx="340.23" cy="696.30" r="7.0" stroke="#ff0000" stroke-width="1.9" fill="none"/>
<circle cx="340.23" cy="699.50" r="7.0" stroke="#ff0000" stroke-width="1.9" fill="none"/>
<circle cx="340.23" cy="714.40" r="7.0" stroke="#ff0000" stroke-width="1.9" fill="none"/>
<circle cx="340.23" cy="718.30" r="7.0" stroke="#ff0000" stroke-width="1.9" fill="none"/>
<circle cx="340.23" cy="720.70" r="7.0" stroke="#ff0000" stroke-width="1.9" fill="none"/>
<circle cx="340.23" cy="737.20" r="7.0" stroke="#ff0000" stroke-width="1.9" fill="none"/>
<circle cx="340.23" cy="745.00" r="7.0" stroke="#ff0000" stroke-width="1.9" fill="none"/>
<circle cx="340.23" cy="747.40" r="7.0" stroke="#ff0000" stroke-width="1.9" fill="none"/>
<circle cx="340.23" cy="755.20" r="7.0" stroke="#ff0000" stroke-width="1.9" fill="none"/>
<circle cx="340.23" cy="770.20" r="7.0" stroke="#ff0000" stroke-width="1.9" fill="none"/>
<circle cx="358.00" cy="603.60" r="7.0" stroke="#ff0000" stroke-width="1.9" fill="none"/>
<circle cx="358.00" cy="642.90" r="7.0" stroke="#ff0000" stroke-width="1.9" fill="none"/>
<circle cx="358.00" cy="669.60" r="7.0" stroke="#ff0000" stroke-width="1.9" fill="none"/>
<circle cx="358.00" cy="677.40" r="7.0" stroke="#ff0000" stroke-width="1.9" fill="none"/>
<circle cx="358.00" cy="691.60" r="7.0" stroke="#ff0000" stroke-width="1.9" fill="none"/>
<circle cx="358.00" cy="712.00" r="7.0" stroke="#ff0000" stroke-width="1.9" fill="none"/>
<circle cx="358.00" cy="713.60" r="7.0" stroke="#ff0000" stroke-width="1.9" fill="none"/>
<circle cx="358.00" cy="727.00" r="7.0" stroke="#ff0000" stroke-width="1.9" fill="none"/>
<circle cx="358.00" cy="730.90" r="7.0" stroke="#ff0000" stroke-width="1.9" fill="none"/>
<circle cx="358.00" cy="766.20" r="7.0" stroke="#ff0000" stroke-width="1.9" fill="none"/>
<circle cx="358.00" cy="771.00" r="7.0" stroke="#ff0000" stroke-width="1.9" fill="none"/>
<circle cx="375.77" cy="628.70" r="7.0" stroke="#ff0000" stroke-width="1.9" fill="none"/>
<circle cx="375.77" cy="632.70" r="7.0" stroke="#ff0000" stroke-width="1.9" fill="none"/>
<circle cx="375.77" cy="653.10" r="7.0" stroke="#ff0000" stroke-width="1.9" fill="none"/>
<circle cx="375.77" cy="657.00" r="7.0" stroke="#ff0000" stroke-width="1.9" fill="none"/>
<circle cx="375.77" cy="669.60" r="7.0" stroke="#ff0000" stroke-width="1.9" fill="none"/>
<circle cx="375.77" cy="673.50" r="7.0" stroke="#ff0000" stroke-width="1.9" fill="none"/>
<circle cx="375.77" cy="727.70" r="7.0" stroke="#ff0000" stroke-width="1.9" fill="none"/>
<circle cx="375.77" cy="734.00" r="7.0" stroke="#ff0000" stroke-width="1.9" fill="none"/>
<circle cx="375.77" cy="761.50" r="7.0" stroke="#ff0000" stroke-width="1.9" fill="none"/>
<circle cx="375.77" cy="763.90" r="7.0" stroke="#ff0000" stroke-width="1.9" fill="none"/>
<circle cx="375.77" cy="901.70" r="7.0" stroke="#ff0000" stroke-width="1.9" fill="none"/>
<circle cx="375.77" cy="914.10" r="7.0" stroke="#ff0000" stroke-width="1.9" fill="none"/>
<circle cx="393.54" cy="911.10" r="7.0" stroke="#ff0000" stroke-width="1.9" fill="none"/>
<circle cx="411.31" cy="915.80" r="7.0" stroke="#ff0000" stroke-width="1.9" fill="none"/>
<circle cx="411.31" cy="924.10" r="7.0" stroke="#ff0000" stroke-width="1.9" fill="none"/>
<circle cx="429.08" cy="908.30" r="7.0" stroke="#ff0000" stroke-width="1.9" fill="none"/>
<circle cx="446.85" cy="661.30" r="7.0" stroke="#ff0000" stroke-width="1.9" fill="none"/>
<circle cx="446.85" cy="731.50" r="7.0" stroke="#ff0000" stroke-width="1.9" fill="none"/>
<circle cx="446.85" cy="929.70" r="7.0" stroke="#ff0000" stroke-width="1.9" fill="none"/>
<circle cx="464.62" cy="669.30" r="7.0" stroke="#ff0000" stroke-width="1.9" fill="none"/>
<circle cx="464.62" cy="697.10" r="7.0" stroke="#ff0000" stroke-width="1.9" fill="none"/>
<circle cx="464.62" cy="901.80" r="7.0" stroke="#ff0000" stroke-width="1.9" fill="none"/>
<circle cx="482.39" cy="646.60" r="7.0" stroke="#ff0000" stroke-width="1.9" fill="none"/>
<circle cx="482.39" cy="656.20" r="7.0" stroke="#ff0000" stroke-width="1.9" fill="none"/>
<circle cx="482.39" cy="663.70" r="7.0" stroke="#ff0000" stroke-width="1.9" fill="none"/>
<circle cx="482.39" cy="686.90" r="7.0" stroke="#ff0000" stroke-width="1.9" fill="none"/>
<circle cx="482.39" cy="694.40" r="7.0" stroke="#ff0000" stroke-width="1.9" fill="none"/>
<circle cx="482.39" cy="911.10" r="7.0" stroke="#ff0000" stroke-width="1.9" fill="none"/>
<circle cx="482.39" cy="921.30" r="7.0" stroke="#ff0000" stroke-width="1.9" fill="none"/>
<circle cx="500.16" cy="889.70" r="7.0" stroke="#ff0000" stroke-width="1.9" fill="none"/>
<circle cx="500.16" cy="901.80" r="7.0" stroke="#ff0000" stroke-width="1.9" fill="none"/>
<circle cx="500.16" cy="911.10" r="7.0" stroke="#ff0000" stroke-width="1.9" fill="none"/>
<circle cx="500.16" cy="914.80" r="7.0" stroke="#ff0000" stroke-width="1.9" fill="none"/>
<circle cx="500.16" cy="918.50" r="7.0" stroke="#ff0000" stroke-width="1.9" fill="none"/>
<circle cx="517.93" cy="601.40" r="7.0" stroke="#ff0000" stroke-width="1.9" fill="none"/>
<circle cx="535.70" cy="691.20" r="7.0" stroke="#ff0000" stroke-width="1.9" fill="none"/>
<circle cx="606.78" cy="738.90" r="7.0" stroke="#ff0000" stroke-width="1.9" fill="none"/>
<circle cx="660.09" cy="705.90" r="7.0" stroke="#ff0000" stroke-width="1.9" fill="none"/>
<circle cx="660.09" cy="927.50" r="7.0" stroke="#ff0000" stroke-width="1.9" fill="none"/>
<circle cx="677.86" cy="905.90" r="7.0" stroke="#ff0000" stroke-width="1.9" fill="none"/>
<circle cx="677.86" cy="936.60" r="7.0" stroke="#ff0000" stroke-width="1.9" fill="none"/>
<circle cx="695.63" cy="899.10" r="7.0" stroke="#ff0000" stroke-width="1.9" fill="none"/>
<circle cx="695.63" cy="903.60" r="7.0" stroke="#ff0000" stroke-width="1.9" fill="none"/>
<circle cx="695.63" cy="907.00" r="7.0" stroke="#ff0000" stroke-width="1.9" fill="none"/>
<circle cx="695.63" cy="935.50" r="7.0" stroke="#ff0000" stroke-width="1.9" fill="none"/>
<circle cx="713.40" cy="911.60" r="7.0" stroke="#ff0000" stroke-width="1.9" fill="none"/>
<circle cx="748.94" cy="857.00" r="7.0" stroke="#ff0000" stroke-width="1.9" fill="none"/>
<circle cx="784.48" cy="907.00" r="7.0" stroke="#ff0000" stroke-width="1.9" fill="none"/>
<circle cx="784.48" cy="915.90" r="7.0" stroke="#ff0000" stroke-width="1.9" fill="none"/>
<circle cx="784.48" cy="920.40" r="7.0" stroke="#ff0000" stroke-width="1.9" fill="none"/>
<circle cx="802.25" cy="914.80" r="7.0" stroke="#ff0000" stroke-width="1.9" fill="none"/>
<circle cx="802.25" cy="932.60" r="7.0" stroke="#ff0000" stroke-width="1.9" fill="none"/>
<circle cx="820.02" cy="893.00" r="7.0" stroke="#ff0000" stroke-width="1.9" fill="none"/>
<circle cx="820.02" cy="915.90" r="7.0" stroke="#ff0000" stroke-width="1.9" fill="none"/>
<circle cx="820.02" cy="923.70" r="7.0" stroke="#ff0000" stroke-width="1.9" fill="none"/>
<circle cx="820.02" cy="933.70" r="7.0" stroke="#ff0000" stroke-width="1.9" fill="none"/>
<circle cx="837.79" cy="898.10" r="7.0" stroke="#ff0000" stroke-width="1.9" fill="none"/>
<circle cx="837.79" cy="910.40" r="7.0" stroke="#ff0000" stroke-width="1.9" fill="none"/>
<circle cx="837.79" cy="933.70" r="7.0" stroke="#ff0000" stroke-width="1.9" fill="none"/>
<circle cx="855.56" cy="665.60" r="7.0" stroke="#ff0000" stroke-width="1.9" fill="none"/>
<circle cx="855.56" cy="880.30" r="7.0" stroke="#ff0000" stroke-width="1.9" fill="none"/>
<circle cx="855.56" cy="921.50" r="7.0" stroke="#ff0000" stroke-width="1.9" fill="none"/>
<circle cx="855.56" cy="940.40" r="7.0" stroke="#ff0000" stroke-width="1.9" fill="none"/>
<circle cx="873.33" cy="917.00" r="7.0" stroke="#ff0000" stroke-width="1.9" fill="none"/>
<circle cx="873.33" cy="927.00" r="7.0" stroke="#ff0000" stroke-width="1.9" fill="none"/>
<circle cx="873.33" cy="938.20" r="7.0" stroke="#ff0000" stroke-width="1.9" fill="none"/>
<circle cx="891.10" cy="933.70" r="7.0" stroke="#ff0000" stroke-width="1.9" fill="none"/>
<circle cx="891.10" cy="938.20" r="7.0" stroke="#ff0000" stroke-width="1.9" fill="none"/>
<line x1="180.30" y1="692.80" x2="891.30" y2="925.50" stroke="#ff0000" stroke-width="2.5" />
<line x1="110.00" y1="1077.00" x2="110.00" y2="1417.70" stroke="#000" stroke-width="1.65" />
<line x1="110.00" y1="1422.30" x2="962.50" y2="1422.30" stroke="#000" stroke-width="1.65" />
<line x1="100.50" y1="1389.20" x2="110.00" y2="1389.20" stroke="#000" stroke-width="1.65" />
<path d="M57.85,1397.00 L55.84,1397.00 L55.84,1384.12 C55.36,1384.58 54.71,1385.04 53.91,1385.52 C53.10,1385.98 52.39,1386.33 51.79,1386.56 L51.79,1384.60 C52.90,1384.07 53.86,1383.45 54.69,1382.72 C55.52,1381.98 56.12,1381.27 56.46,1380.53 L57.85,1380.53 Z" fill="#000"/>
<text x="62.52" y="1397.00" font-size="23">2</text>
<text x="75.76" y="1397.00" font-size="23">0</text>
<line x1="100.50" y1="1318.30" x2="110.00" y2="1318.30" stroke="#000" stroke-width="1.65" />
<path d="M57.85,1326.10 L55.84,1326.10 L55.84,1313.22 C55.36,1313.68 54.71,1314.14 53.91,1314.62 C53.10,1315.08 52.39,1315.43 51.79,1315.66 L51.79,1313.70 C52.90,1313.17 53.86,1312.55 54.69,1311.82 C55.52,1311.08 56.12,1310.37 56.46,1309.63 L57.85,1309.63 Z" fill="#000"/>
<text x="62.52" y="1326.10" font-size="23">3</text>
<text x="75.76" y="1326.10" font-size="23">0</text>
<line x1="100.50" y1="1247.40" x2="110.00" y2="1247.40" stroke="#000" stroke-width="1.65" />
<path d="M57.85,1255.20 L55.84,1255.20 L55.84,1242.32 C55.36,1242.78 54.71,1243.24 53.91,1243.72 C53.10,1244.18 52.39,1244.53 51.79,1244.76 L51.79,1242.80 C52.90,1242.27 53.86,1241.65 54.69,1240.92 C55.52,1240.18 56.12,1239.47 56.46,1238.73 L57.85,1238.73 Z" fill="#000"/>
<text x="62.52" y="1255.20" font-size="23">4</text>
<text x="75.76" y="1255.20" font-size="23">0</text>
<line x1="100.50" y1="1176.50" x2="110.00" y2="1176.50" stroke="#000" stroke-width="1.65" />
<path d="M57.85,1184.30 L55.84,1184.30 L55.84,1171.42 C55.36,1171.88 54.71,1172.34 53.91,1172.82 C53.10,1173.28 52.39,1173.63 51.79,1173.86 L51.79,1171.90 C52.90,1171.37 53.86,1170.75 54.69,1170.02 C55.52,1169.28 56.12,1168.57 56.46,1167.83 L57.85,1167.83 Z" fill="#000"/>
<text x="62.52" y="1184.30" font-size="23">5</text>
<text x="75.76" y="1184.30" font-size="23">0</text>
<line x1="100.50" y1="1105.60" x2="110.00" y2="1105.60" stroke="#000" stroke-width="1.65" />
<path d="M57.85,1113.40 L55.84,1113.40 L55.84,1100.52 C55.36,1100.98 54.71,1101.44 53.91,1101.92 C53.10,1102.38 52.39,1102.73 51.79,1102.96 L51.79,1101.00 C52.90,1100.47 53.86,1099.85 54.69,1099.12 C55.52,1098.38 56.12,1097.67 56.46,1096.93 L57.85,1096.93 Z" fill="#000"/>
<text x="62.52" y="1113.40" font-size="23">6</text>
<text x="75.76" y="1113.40" font-size="23">0</text>
<text transform="translate(22.3,1247.4) rotate(-90)" font-size="28.5" text-anchor="middle">Day of year harvested</text>
<text x="117.00" y="1117.50" font-size="42" text-anchor="start" font-weight="bold" >c</text>
<line x1="230.90" y1="1422.30" x2="230.90" y2="1431.60" stroke="#000" stroke-width="1.65" />
<text x="230.90" y="1463.40" font-size="23" text-anchor="middle" font-weight="normal"  letter-spacing="0.45">Female</text>
<line x1="434.20" y1="1422.30" x2="434.20" y2="1431.60" stroke="#000" stroke-width="1.65" />
<text x="434.20" y="1463.40" font-size="23" text-anchor="middle" font-weight="normal"  letter-spacing="0.45">Male</text>
<line x1="637.10" y1="1422.30" x2="637.10" y2="1431.60" stroke="#000" stroke-width="1.65" />
<text x="637.10" y="1463.40" font-size="23" text-anchor="middle" font-weight="normal"  letter-spacing="0.45">Female</text>
<line x1="840.30" y1="1422.30" x2="840.30" y2="1431.60" stroke="#000" stroke-width="1.65" />
<text x="840.30" y="1463.40" font-size="23" text-anchor="middle" font-weight="normal"  letter-spacing="0.45">Male</text>
<text x="327.40" y="1516.30" font-size="28.5" text-anchor="middle" font-weight="normal" >Pre-spawn</text>
<text x="735.10" y="1516.30" font-size="28.5" text-anchor="middle" font-weight="normal" >Post-spawn</text>
<line x1="230.90" y1="1275.76" x2="230.90" y2="1318.30" stroke="#000" stroke-width="1.7" />
<line x1="230.90" y1="1353.75" x2="230.90" y2="1367.93" stroke="#000" stroke-width="1.7" />
<line x1="213.40" y1="1275.76" x2="248.40" y2="1275.76" stroke="#000" stroke-width="1.7" />
<line x1="213.40" y1="1367.93" x2="248.40" y2="1367.93" stroke="#000" stroke-width="1.7" />
<rect x="169.70" y="1318.30" width="122.40" height="35.45" fill="#ff0000" stroke="#000" stroke-width="1.7" />
<line x1="169.70" y1="1339.57" x2="292.10" y2="1339.57" stroke="#000" stroke-width="1.7" />
<line x1="171.00" y1="1332.00" x2="291.30" y2="1332.00" stroke="#000" stroke-width="6.6" stroke-linecap="round" stroke-dasharray="14.4 12.7"/>
<circle cx="231.20" cy="1119.78" r="7.8" fill="#000"/>
<circle cx="231.20" cy="1197.77" r="7.8" fill="#000"/>
<circle cx="231.20" cy="1219.04" r="7.8" fill="#000"/>
<circle cx="231.20" cy="1247.40" r="7.8" fill="#000"/>
<circle cx="231.20" cy="1254.49" r="7.8" fill="#000"/>
<circle cx="231.20" cy="1268.67" r="7.8" fill="#000"/>
<circle cx="231.20" cy="1375.02" r="7.8" fill="#000"/>
<circle cx="231.20" cy="1382.11" r="7.8" fill="#000"/>
<circle cx="231.20" cy="1389.20" r="7.8" fill="#000"/>
<line x1="434.30" y1="1138.70" x2="434.30" y2="1309.50" stroke="#000" stroke-width="1.7" />
<line x1="434.30" y1="1360.84" x2="434.30" y2="1382.11" stroke="#000" stroke-width="1.7" />
<line x1="416.80" y1="1138.70" x2="451.80" y2="1138.70" stroke="#000" stroke-width="1.7" />
<line x1="416.80" y1="1382.11" x2="451.80" y2="1382.11" stroke="#000" stroke-width="1.7" />
<rect x="373.10" y="1309.50" width="122.40" height="51.34" fill="#0000ff" stroke="#000" stroke-width="1.7" />
<line x1="373.10" y1="1346.66" x2="495.50" y2="1346.66" stroke="#000" stroke-width="1.7" />
<line x1="374.40" y1="1316.40" x2="494.70" y2="1316.40" stroke="#000" stroke-width="6.6" stroke-linecap="round" stroke-dasharray="14.4 12.7"/>
<circle cx="434.60" cy="1105.60" r="7.8" fill="#000"/>
<circle cx="434.60" cy="1119.78" r="7.8" fill="#000"/>
<circle cx="434.60" cy="1126.87" r="7.8" fill="#000"/>
<circle cx="434.60" cy="1133.96" r="7.8" fill="#000"/>
<circle cx="434.60" cy="1389.20" r="7.8" fill="#000"/>
<line x1="637.20" y1="1112.69" x2="637.20" y2="1130.60" stroke="#000" stroke-width="1.7" />
<line x1="637.20" y1="1261.58" x2="637.20" y2="1297.03" stroke="#000" stroke-width="1.7" />
<line x1="619.70" y1="1112.69" x2="654.70" y2="1112.69" stroke="#000" stroke-width="1.7" />
<line x1="619.70" y1="1297.03" x2="654.70" y2="1297.03" stroke="#000" stroke-width="1.7" />
<rect x="576.00" y="1130.60" width="122.40" height="130.98" fill="#ff0000" stroke="#000" stroke-width="1.7" />
<line x1="576.00" y1="1162.32" x2="698.40" y2="1162.32" stroke="#000" stroke-width="1.7" />
<line x1="577.30" y1="1190.10" x2="697.60" y2="1190.10" stroke="#000" stroke-width="6.6" stroke-linecap="round" stroke-dasharray="14.4 12.7"/>
<circle cx="637.50" cy="1105.60" r="7.8" fill="#000"/>
<circle cx="637.50" cy="1304.60" r="7.8" fill="#000"/>
<circle cx="637.50" cy="1311.21" r="7.8" fill="#000"/>
<circle cx="637.50" cy="1332.48" r="7.8" fill="#000"/>
<line x1="840.30" y1="1112.69" x2="840.30" y2="1119.78" stroke="#000" stroke-width="1.7" />
<line x1="840.30" y1="1176.50" x2="840.30" y2="1247.40" stroke="#000" stroke-width="1.7" />
<line x1="822.80" y1="1112.69" x2="857.80" y2="1112.69" stroke="#000" stroke-width="1.7" />
<line x1="822.80" y1="1247.40" x2="857.80" y2="1247.40" stroke="#000" stroke-width="1.7" />
<rect x="779.10" y="1119.78" width="122.40" height="56.72" fill="#0000ff" stroke="#000" stroke-width="1.7" />
<line x1="779.10" y1="1126.30" x2="901.50" y2="1126.30" stroke="#000" stroke-width="1.7" />
<line x1="780.40" y1="1149.80" x2="900.70" y2="1149.80" stroke="#000" stroke-width="6.6" stroke-linecap="round" stroke-dasharray="14.4 12.7"/>
<circle cx="840.60" cy="1105.60" r="7.8" fill="#000"/>
<circle cx="840.60" cy="1254.49" r="7.8" fill="#000"/>
<circle cx="840.60" cy="1261.58" r="7.8" fill="#000"/>
<circle cx="840.60" cy="1268.67" r="7.8" fill="#000"/>
<text x="271.85" y="1312.70" font-size="28" text-anchor="middle" font-weight="normal" >A</text>
<text x="481.35" y="1302.70" font-size="28" text-anchor="middle" font-weight="normal" >A</text>
<text x="684.30" y="1126.60" font-size="28" text-anchor="middle" font-weight="normal" >B</text>
<text x="890.00" y="1115.80" font-size="28" text-anchor="middle" font-weight="normal" >C</text>
</svg>
</body></html>
